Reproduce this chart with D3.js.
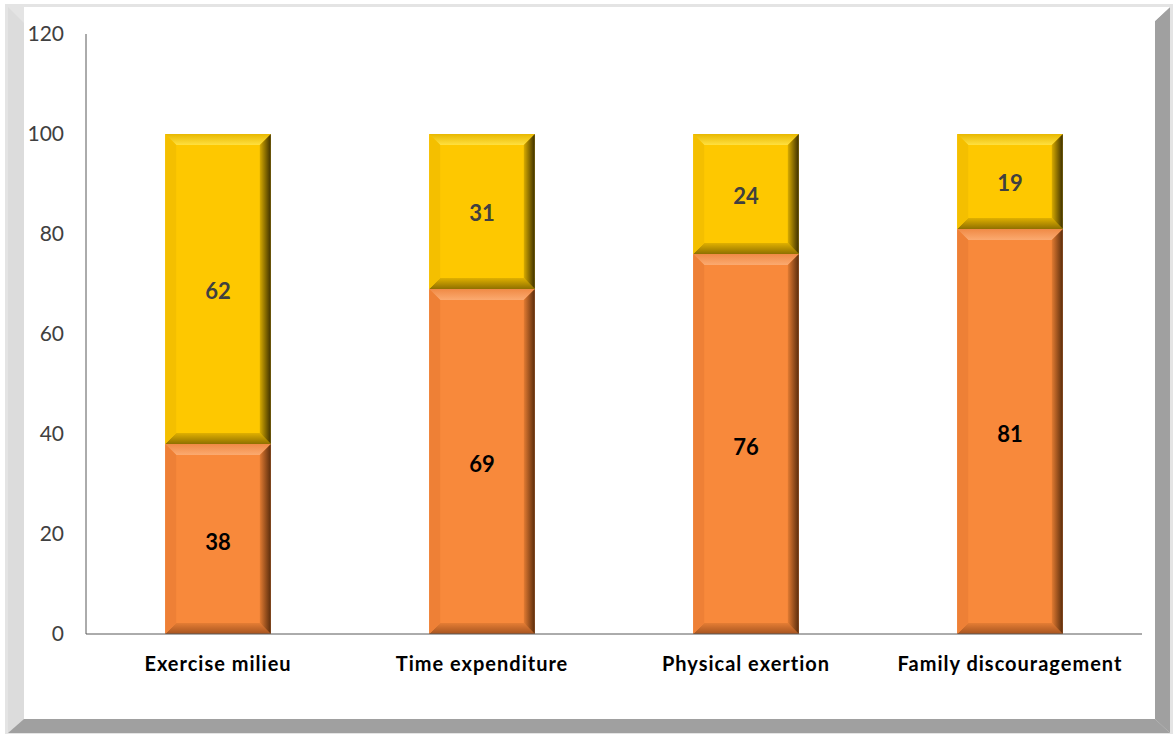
<!DOCTYPE html>
<html>
<head>
<meta charset="utf-8">
<script src="https://cdn.jsdelivr.net/npm/d3@7"></script>
<style>
  body { margin: 0; background: #ffffff; }
  svg { display: block; font-family: Lato, "Open Sans", sans-serif; }
  .axis path, .axis line { stroke: #595959; }
  .axis .tick text { fill: #404040; font-size: 21px; font-family: Lato, sans-serif; }
</style>
</head>
<body>
<div id="chart"></div>
<script>
var categories = ["Exercise milieu", "Time expenditure", "Physical exertion", "Family discouragement"];
var lower = [38, 69, 76, 81];   // orange part
var upper = [62, 31, 24, 19];   // gold part
var yTicks = [0, 20, 40, 60, 80, 100, 120];

var width = 1176, height = 735;
var margin = {top: 34, right: 34, bottom: 101, left: 86};

var svg = d3.select("#chart").append("svg")
  .attr("width", width)
  .attr("height", height);

// frame with bevelled edges
var frame = svg.append("g");
frame.append("rect")
  .attr("x", 5).attr("y", 4).attr("width", 1168).attr("height", 730)
  .style("fill", "#e4e4e4");
frame.append("polygon")
  .attr("points", "8,7 24,23 24,719 8,733")
  .style("fill", "#dcdcdc");
frame.append("polygon")
  .attr("points", "8,733 24,719 1155,719 1170,733")
  .style("fill", "#a0a0a0");
frame.append("polygon")
  .attr("points", "1170,7 1155,21 1155,719 1170,733")
  .style("fill", "#a0a0a0");
frame.append("rect")
  .attr("x", 24).attr("y", 7).attr("width", 1131).attr("height", 712)
  .style("fill", "#ffffff");
frame.append("polygon")
  .attr("points", "1155,7 1170,7 1155,21")
  .style("fill", "#ffffff");

var gw = width - margin.left - margin.right,
    gh = height - margin.top - margin.bottom;

var g = svg.append("g")
  .attr("transform", "translate(" + margin.left + "," + margin.top + ")");

var x = d3.scaleBand()
  .domain(categories)
  .range([0, gw])
  .paddingInner(0.6)
  .paddingOuter(0.3);

var y = d3.scaleLinear()
  .domain([0, 120])
  .range([gh, 0]);

// gradients for the bevel
var defs = svg.append("defs");
function grad(id, x2, y2, stops) {
  var lg = defs.append("linearGradient").attr("id", id)
    .attr("x1", 0).attr("y1", 0).attr("x2", x2).attr("y2", y2);
  stops.forEach(function(s) {
    lg.append("stop").attr("offset", s[0]).attr("stop-color", s[1]);
  });
}
var palette = {
  orange: {base: "#f8893b", top: ["#f08a45", "#fbaa70"], bottom: ["#e57d34", "#a65420"], left: "#ee8036", right: ["#e27b32", "#5a2c0c"]},
  gold:   {base: "#fec800", top: ["#e8b800", "#ffe040"], bottom: ["#e0b000", "#8f7000"], left: "#f4bf00", right: ["#d8ab00", "#3d3000"]}
};
Object.keys(palette).forEach(function(k) {
  var p = palette[k];
  grad(k + "Top", 0, 1, [[0, p.top[0]], [1, p.top[1]]]);
  grad(k + "Bottom", 0, 1, [[0, p.bottom[0]], [1, p.bottom[1]]]);
  grad(k + "Right", 1, 0, [[0, p.right[0]], [1, p.right[1]]]);
});

function bevelBar(sel, key) {
  var p = palette[key];
  sel.each(function(d) {
    var s = d3.select(this);
    var x0 = d.x, y0 = d.y, w = d.w, h = d.h;
    var b = Math.min(11, h / 2);
    s.append("rect").attr("x", x0).attr("y", y0).attr("width", w).attr("height", h)
      .style("fill", p.base);
    s.append("polygon")
      .attr("points", [[x0, y0], [x0 + w, y0], [x0 + w - b, y0 + b], [x0 + b, y0 + b]].join(" "))
      .style("fill", "url(#" + key + "Top)");
    s.append("polygon")
      .attr("points", [[x0, y0 + h], [x0 + b, y0 + h - b], [x0 + w - b, y0 + h - b], [x0 + w, y0 + h]].join(" "))
      .style("fill", "url(#" + key + "Bottom)");
    s.append("polygon")
      .attr("points", [[x0, y0], [x0 + b, y0 + b], [x0 + b, y0 + h - b], [x0, y0 + h]].join(" "))
      .style("fill", p.left);
    s.append("polygon")
      .attr("points", [[x0 + w, y0], [x0 + w - b, y0 + b], [x0 + w - b, y0 + h - b], [x0 + w, y0 + h]].join(" "))
      .style("fill", "url(#" + key + "Right)");
  });
}

var lowData = categories.map(function(c, i) {
  return {cat: c, v: lower[i], x: x(c), y: y(lower[i]), w: x.bandwidth(), h: y(0) - y(lower[i])};
});
var upData = categories.map(function(c, i) {
  return {cat: c, v: upper[i], x: x(c), y: y(lower[i] + upper[i]), w: x.bandwidth(), h: y(lower[i]) - y(lower[i] + upper[i])};
});

g.selectAll("g.low").data(lowData).enter()
  .append("g").attr("class", "low")
  .call(bevelBar, "orange");

g.selectAll("g.up").data(upData).enter()
  .append("g").attr("class", "up")
  .call(bevelBar, "gold");

// axes
g.append("g")
  .attr("class", "axis")
  .call(d3.axisLeft(y).tickValues(yTicks).tickSize(0).tickPadding(22))
  .call(function(a) { a.select(".domain").attr("d", "M0," + gh + "V0"); });

g.append("g")
  .attr("class", "axis")
  .attr("transform", "translate(0," + gh + ")")
  .call(d3.axisBottom(x).tickSize(0).tickPadding(23))
  .call(function(a) {
    a.select(".domain").attr("d", "M0,0H" + gw);
    a.selectAll(".tick text")
      .style("fill", "#000000")
      .style("font-size", "20px")
      .style("letter-spacing", "1px")
      .style("font-weight", 700);
  });

// value labels
g.selectAll("text.lowlab").data(lowData).enter()
  .append("text")
  .attr("class", "lowlab")
  .attr("x", function(d) { return d.x + d.w / 2; })
  .attr("y", function(d) { return d.y + d.h / 2 + 3; })
  .attr("dy", "0.35em")
  .style("text-anchor", "middle")
  .style("font-size", "22px")
  .style("font-weight", 700)
  .style("fill", "#000000")
  .text(function(d) { return d.v; });

g.selectAll("text.uplab").data(upData).enter()
  .append("text")
  .attr("class", "uplab")
  .attr("x", function(d) { return d.x + d.w / 2; })
  .attr("y", function(d) { return d.y + d.h / 2 + 2; })
  .attr("dy", "0.35em")
  .style("text-anchor", "middle")
  .style("font-size", "22px")
  .style("font-weight", 700)
  .style("fill", "#404040")
  .text(function(d) { return d.v; });
</script>
</body>
</html>
